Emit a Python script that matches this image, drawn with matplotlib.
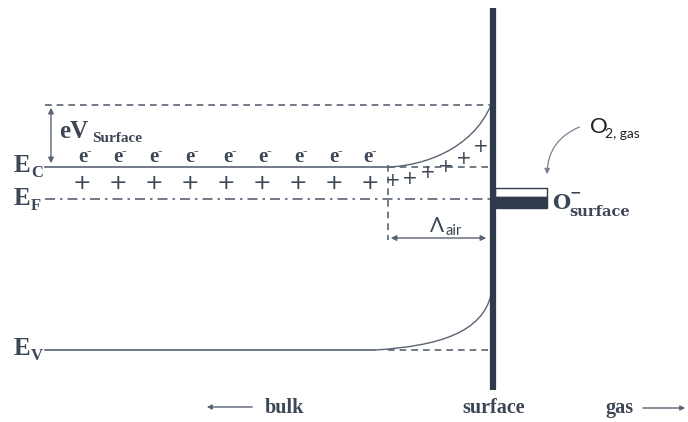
import matplotlib.pyplot as plt
from matplotlib.path import Path
from matplotlib.patches import PathPatch, Rectangle

# band diagram geometry (pixel coordinates)
surface_x = 491
bulk_x0 = 45
ec_y = 167
ef_y = 199
ev_y = 350
ec_surface_y = 105
ev_surface_y = 295
depletion_x = 388
ev_bend_start = 375

electron_x = [83, 118, 154, 190, 228, 263, 299, 334, 368]
plus_bulk_x = [82, 118, 154, 190, 226, 262, 298, 334, 370]
plus_bulk_y = 183
plus_bend_x = [393, 410, 428, 446, 464, 481]
plus_bend_y = [180, 178, 172, 167, 159, 147]

line_c = '#5a6373'
dark = '#2f3b4d'
text_c = '#3d4655'

fig = plt.figure(figsize=(6.88, 4.22), dpi=100)
ax = fig.add_axes([0, 0, 1, 1])
ax.set_xlim(0, 688)
ax.set_ylim(422, 0)
ax.axis('off')

# surface wall
ax.plot([surface_x + 2, surface_x + 2], [8, 390], color=dark, lw=4.5, solid_capstyle='butt', zorder=5)

# conduction band
ax.plot([bulk_x0, depletion_x], [ec_y, ec_y], color=line_c, lw=1.2)
ax.plot([depletion_x, surface_x], [ec_y, ec_y], color=line_c, lw=1.2, ls=(0, (4, 3)))
ax.plot([bulk_x0, surface_x], [ec_surface_y, ec_surface_y], color=line_c, lw=1.2, ls=(0, (4, 3)))
p = Path([(depletion_x, ec_y), (422, ec_y - 1), (472, 150), (surface_x, ec_surface_y)],
         [Path.MOVETO, Path.CURVE4, Path.CURVE4, Path.CURVE4])
ax.add_patch(PathPatch(p, fill=False, ec=line_c, lw=1.0))

# fermi level
ax.plot([bulk_x0, surface_x], [ef_y, ef_y], color=line_c, lw=1.2, ls=(0, (6, 3, 1.5, 3)))

# valence band
ax.plot([bulk_x0, ev_bend_start], [ev_y, ev_y], color=line_c, lw=1.2)
ax.plot([depletion_x, surface_x], [ev_y, ev_y], color=line_c, lw=1.2, ls=(0, (4, 3)))
p = Path([(ev_bend_start, ev_y), (440, ev_y - 4), (482, 332), (surface_x, ev_surface_y)],
         [Path.MOVETO, Path.CURVE4, Path.CURVE4, Path.CURVE4])
ax.add_patch(PathPatch(p, fill=False, ec=line_c, lw=1.0))

# depletion boundary
ax.plot([depletion_x, depletion_x], [ec_y - 2, 240], color=line_c, lw=1.2, ls=(0, (4, 3)))
ax.annotate('', xy=(surface_x - 2, 238), xytext=(depletion_x, 238),
            arrowprops=dict(arrowstyle='<|-|>', color=line_c, lw=1.0, mutation_scale=8))
ax.text(437, 232, '\u039b', fontsize=15, color=text_c, ha='center', va='baseline', family='Lato')
ax.text(446, 235, 'air', fontsize=10.5, color=text_c, ha='left', va='baseline', family='Lato')

# eV surface arrow
ax.annotate('', xy=(51, ec_y - 1), xytext=(51, ec_surface_y),
            arrowprops=dict(arrowstyle='<|-|>', color=line_c, lw=1.0, mutation_scale=8))
serif = dict(family='Liberation Serif', weight='bold', color=text_c)
ax.text(59, 138, 'eV', fontsize=18, va='baseline', **serif)
ax.text(92, 142, 'Surface', fontsize=11, va='baseline', **serif)

# level labels
for lab, yb in [('C', 172), ('F', 205), ('V', 355)]:
    ax.text(14, yb, 'E', fontsize=18, va='baseline', **serif)
    ax.text(31, yb + 5, lab, fontsize=12, va='baseline', **serif)

# charges
for x in electron_x:
    ax.text(x, 162, 'e', fontsize=15, ha='center', va='baseline', **serif)
    ax.text(x + 6, 155, '-', fontsize=10, ha='center', va='baseline', **serif)
for x in plus_bulk_x:
    ax.text(x, plus_bulk_y, '+', fontsize=16, ha='center', va='center', color=text_c, family='DejaVu Sans')
for x, y in zip(plus_bend_x, plus_bend_y):
    ax.text(x, y, '+', fontsize=13.5, ha='center', va='center', color=text_c, family='DejaVu Sans')

# surface acceptor state
ax.add_patch(Rectangle((surface_x + 4, 188), 52, 9, fc='white', ec=dark, lw=1.0, zorder=4))
ax.add_patch(Rectangle((surface_x + 4, 197), 52, 11, fc=dark, ec=dark, lw=1.0, zorder=4))
ax.text(552, 209, 'O', fontsize=15, va='baseline', color=text_c, family='DejaVu Serif', weight='bold')
ax.text(570, 196, '\u2212', fontsize=10, va='baseline', color=text_c, family='DejaVu Serif', weight='bold')
ax.text(569, 216, 'surface', fontsize=10.5, va='baseline', color=text_c, family='DejaVu Serif', weight='bold')

# O2 gas
ax.text(590, 133, 'O', fontsize=16, va='baseline', color='#222222', family='Lato')
ax.text(605, 138, '2, gas', fontsize=10, va='baseline', color='#222222', family='Lato')
ax.annotate('', xy=(547, 177), xytext=(582, 126),
            arrowprops=dict(arrowstyle='-|>', color='#7a8290', lw=0.9, mutation_scale=8,
                            connectionstyle='arc3,rad=0.35'))

# bottom labels
ax.annotate('', xy=(204, 407), xytext=(255, 407),
            arrowprops=dict(arrowstyle='-|>', color=line_c, lw=1.0, mutation_scale=7))
ax.text(265, 413, 'bulk', fontsize=14.5, va='baseline', **serif)
ax.text(462, 413, 'surface', fontsize=14.5, va='baseline', **serif)
ax.text(605, 413, 'gas', fontsize=14.5, va='baseline', **serif)
ax.annotate('', xy=(688, 408), xytext=(640, 408),
            arrowprops=dict(arrowstyle='-|>', color=line_c, lw=1.0, mutation_scale=7))

fig.savefig('out.png', dpi=100)
